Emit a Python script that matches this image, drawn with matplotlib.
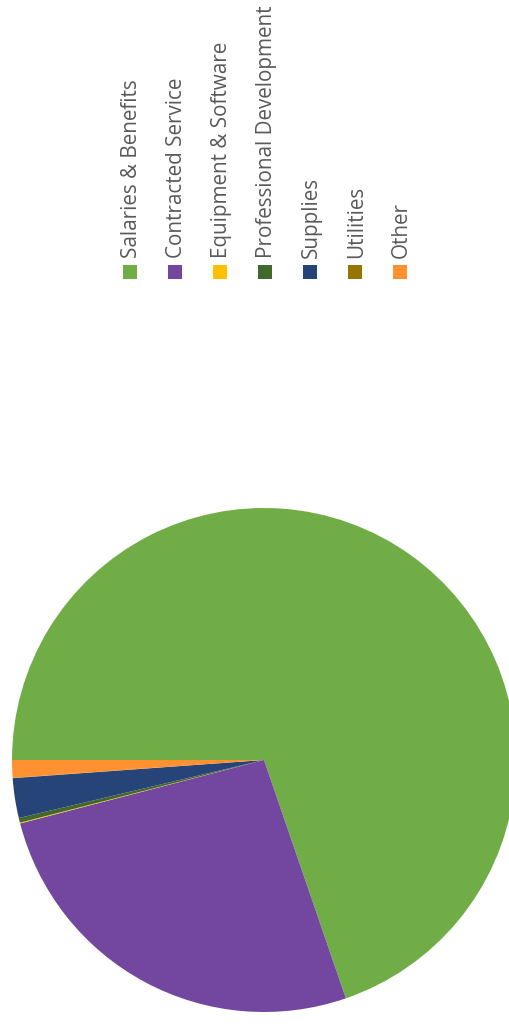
import matplotlib
matplotlib.use("Agg")
import matplotlib.pyplot as plt
from matplotlib.patches import Rectangle

# share of spending (%)
categories = ['Salaries & Benefits', 'Contracted Service', 'Equipment & Software',
              'Professional Development', 'Supplies', 'Utilities', 'Other']
shares = [69.7, 26.2, 0.05, 0.3, 2.55, 0.02, 1.13]
colors = ['#70AD47', '#7347A0', '#FFC000', '#43682B', '#264478', '#997300', '#FF9130']

W, H = 510, 1029


def main():
    fig = plt.figure(figsize=(W / 100, H / 100), dpi=100)

    # pie is drawn rotated a quarter turn, starting at 9 o'clock, clockwise
    cx, cy, r = 264, 760, 252
    ax = fig.add_axes([(cx - r) / W, (H - cy - r) / H, 2 * r / W, 2 * r / H])
    ax.pie(shares, colors=colors, startangle=180, counterclock=False,
           radius=1, wedgeprops=dict(linewidth=0))
    ax.set_xlim(-1, 1)
    ax.set_ylim(-1, 1)
    ax.set_aspect('equal')
    ax.axis('off')

    # legend, turned sideways like the pie
    x0, step, sq = 130, 45, 14
    for i, (name, c) in enumerate(zip(categories, colors)):
        xc = x0 + i * step
        fig.patches.append(Rectangle(((xc - sq / 2) / W, (H - 279) / H), sq / W, sq / H,
                                     transform=fig.transFigure, facecolor=c,
                                     edgecolor='none'))
        fig.text((xc + 1.5) / W, (H - 258) / H, name, rotation=90, rotation_mode='anchor',
                 ha='left', va='center', fontsize=14.9, color='#595959',
                 family='Open Sans')

    fig.savefig('out.png', dpi=100)


if __name__ == '__main__':
    main()
